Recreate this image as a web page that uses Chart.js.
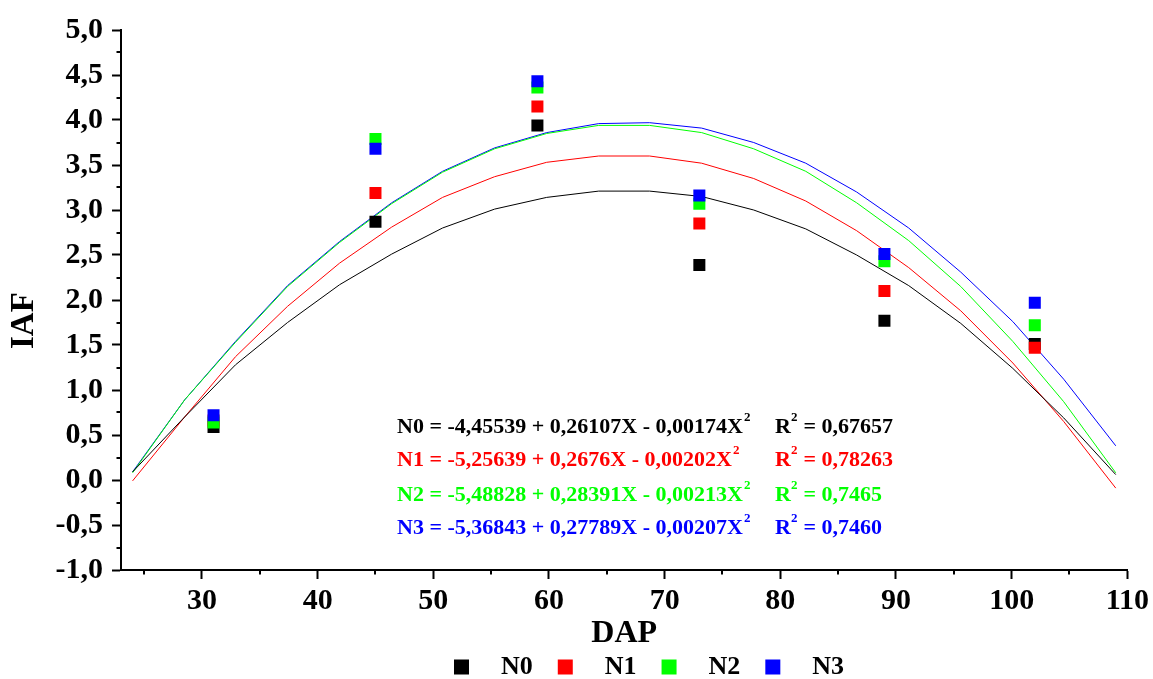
<!DOCTYPE html>
<html>
<head>
<meta charset="utf-8">
<title>IAF x DAP</title>
<script src="https://cdn.jsdelivr.net/npm/chart.js@4.4.1/dist/chart.umd.min.js"></script>
<style>
  body { margin: 0; background: #fff; }
  #wrap { width: 1153px; height: 679px; }
</style>
</head>
<body>
<div id="wrap"><canvas id="iafChart"></canvas></div>
<script>
const serif = '"Liberation Serif", "Times New Roman", serif';

const seriesNames = ['N0', 'N1', 'N2', 'N3'];
const seriesColors = ['#000000', '#ff0000', '#00ff00', '#0000ff'];

// measured points
const dap = [31, 45, 59, 73, 89, 102];
const iafN0 = [0.59, 2.87, 3.94, 2.39, 1.77, 1.51];
const iafN1 = [0.66, 3.19, 4.15, 2.85, 2.10, 1.47];
const iafN2 = [0.64, 3.79, 4.36, 3.07, 2.43, 1.72];
const iafN3 = [0.72, 3.68, 4.43, 3.16, 2.51, 1.97];

// fitted curves
const curveDap = [24, 28.5, 32.9, 37.4, 41.9, 46.4, 50.8, 55.3, 59.8, 64.3, 68.7, 73.2, 77.7, 82.2, 86.6, 91.1, 95.6, 100.1, 104.5, 109];
const fitN0 = [0.09, 0.70, 1.28, 1.75, 2.17, 2.51, 2.80, 3.01, 3.14, 3.21, 3.21, 3.15, 3.00, 2.79, 2.50, 2.16, 1.74, 1.24, 0.69, 0.06];
const fitN1 = [-0.01, 0.70, 1.37, 1.93, 2.41, 2.81, 3.14, 3.37, 3.53, 3.60, 3.60, 3.52, 3.35, 3.10, 2.77, 2.36, 1.88, 1.30, 0.65, -0.09];
const fitN2 = [0.08, 0.89, 1.53, 2.15, 2.64, 3.07, 3.42, 3.68, 3.85, 3.94, 3.94, 3.86, 3.68, 3.43, 3.08, 2.66, 2.15, 1.54, 0.87, 0.08];
const fitN3 = [0.09, 0.89, 1.54, 2.16, 2.65, 3.08, 3.43, 3.69, 3.86, 3.96, 3.97, 3.91, 3.75, 3.52, 3.20, 2.80, 2.31, 1.76, 1.12, 0.38];

const equations = [
  'N0 = -4,45539 + 0,26107X - 0,00174X',
  'N1 = -5,25639 + 0,2676X - 0,00202X',
  'N2 = -5,48828 + 0,28391X - 0,00213X',
  'N3 = -5,36843 + 0,27789X - 0,00207X'
];
const r2Values = ['0,67657', '0,78263', '0,7465', '0,7460'];

const pointSets = [iafN0, iafN1, iafN2, iafN3];
const fitSets = [fitN0, fitN1, fitN2, fitN3];

const datasets = [];
fitSets.forEach((fit, i) => {
  datasets.push({
    label: seriesNames[i] + ' fit',
    data: curveDap.map((x, k) => ({ x: x, y: fit[k] })),
    showLine: true,
    borderColor: seriesColors[i],
    borderWidth: 1,
    pointRadius: 0,
    tension: 0,
    order: 10
  });
});
pointSets.forEach((vals, i) => {
  datasets.push({
    label: seriesNames[i],
    data: dap.map((x, k) => ({ x: x, y: vals[k] })),
    showLine: false,
    pointStyle: 'rect',
    pointRadius: 8.5,
    pointBorderWidth: 0,
    backgroundColor: seriesColors[i],
    borderColor: seriesColors[i],
    order: 4 - i
  });
});

// minor ticks halfway between the major ones
const minorTicks = {
  id: 'minorTicks',
  afterDraw(chart) {
    const ctx = chart.ctx;
    const area = chart.chartArea;
    ctx.save();
    ctx.strokeStyle = '#000';
    ctx.lineWidth = 2;
    const ys = chart.scales.y;
    const yt = ys.ticks;
    for (let i = 0; i < yt.length - 1; i++) {
      const py = Math.round(ys.getPixelForValue((yt[i].value + yt[i + 1].value) / 2));
      ctx.beginPath();
      ctx.moveTo(area.left - 4.5, py);
      ctx.lineTo(area.left, py);
      ctx.stroke();
    }
    const xs = chart.scales.x;
    const xt = xs.ticks;
    const xMinor = [xt[0].value - 5];
    for (let i = 0; i < xt.length - 1; i++) xMinor.push((xt[i].value + xt[i + 1].value) / 2);
    xMinor.forEach(v => {
      if (v < xs.min) return;
      const px = Math.round(xs.getPixelForValue(v));
      ctx.beginPath();
      ctx.moveTo(px, area.bottom);
      ctx.lineTo(px, area.bottom + 4.5);
      ctx.stroke();
    });
    ctx.restore();
  }
};

// regression equations and custom legend
const annotations = {
  id: 'annotations',
  afterDraw(chart) {
    const ctx = chart.ctx;
    ctx.save();
    ctx.textBaseline = 'middle';
    ctx.textAlign = 'left';
    const rowY = [427, 460, 495, 528];
    equations.forEach((eq, i) => {
      ctx.fillStyle = seriesColors[i];
      ctx.font = 'bold 22px ' + serif;
      ctx.fillText(eq, 397, rowY[i]);
      const w = ctx.measureText(eq).width;
      ctx.font = 'bold 13px ' + serif;
      ctx.fillText('2', 397 + w + 1, rowY[i] - 9);

      ctx.font = 'bold 22px ' + serif;
      ctx.fillText('R', 775, rowY[i]);
      const rw = ctx.measureText('R').width;
      ctx.font = 'bold 13px ' + serif;
      ctx.fillText('2', 775 + rw, rowY[i] - 9);
      ctx.font = 'bold 22px ' + serif;
      ctx.fillText(' = ' + r2Values[i], 775 + rw + 7, rowY[i]);
    });

    // legend
    let x = 454;
    const ly = 667;
    ctx.font = 'bold 26px ' + serif;
    seriesNames.forEach((name, i) => {
      ctx.fillStyle = seriesColors[i];
      ctx.fillRect(x, ly - 7.5, 15, 15);
      x += 15 + 32;
      ctx.fillStyle = '#000';
      ctx.fillText(name, x, ly);
      x += ctx.measureText(name).width + 25;
    });
    ctx.restore();
  }
};

new Chart(document.getElementById('iafChart'), {
  type: 'scatter',
  data: { datasets: datasets },
  options: {
    responsive: true,
    maintainAspectRatio: false,
    animation: false,
    layout: { padding: { top: 30, right: 25, left: 0, bottom: 0 } },
    plugins: {
      legend: { display: false },
      tooltip: { enabled: false }
    },
    scales: {
      x: {
        type: 'linear',
        min: 23,
        max: 110,
        ticks: {
          stepSize: 10,
          includeBounds: false,
          maxRotation: 0,
          padding: 4,
          color: '#000',
          font: { family: serif, size: 30, weight: 'bold' }
        },
        grid: { drawOnChartArea: false, tickLength: 9, tickWidth: 2, tickColor: '#000' },
        border: { color: '#000', width: 2 },
        title: {
          display: true,
          text: 'DAP',
          color: '#000',
          font: { family: serif, size: 32, weight: 'bold' },
          padding: { top: 0, bottom: 26 }
        },
        afterFit: scale => { scale.height = 109; }
      },
      y: {
        min: -1,
        max: 5,
        ticks: {
          stepSize: 0.5,
          includeBounds: false,
          padding: 9,
          color: '#000',
          font: { family: serif, size: 30, weight: 'bold' },
          callback: v => v.toFixed(1).replace('.', ',')
        },
        grid: { drawOnChartArea: false, tickLength: 9, tickWidth: 2, tickColor: '#000' },
        border: { color: '#000', width: 2 },
        title: {
          display: true,
          text: 'IAF\u00a0\u00a0\u00a0\u00a0\u00a0',
          color: '#000',
          font: { family: serif, size: 33, weight: 'bold' },
          padding: { top: 5, bottom: 0 }
        },
        afterFit: scale => { scale.width = 121; }
      }
    }
  },
  plugins: [minorTicks, annotations]
});
</script>
</body>
</html>
